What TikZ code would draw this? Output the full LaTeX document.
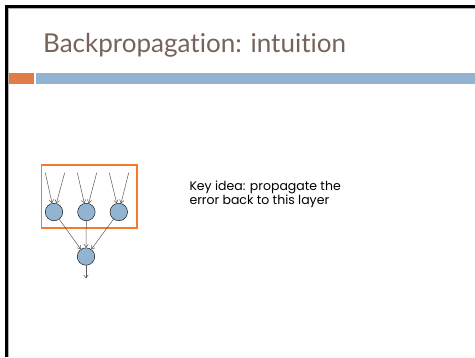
\documentclass[tikz,border=0pt]{standalone}
\usepackage{fontspec}
\setmainfont[Ligatures=NoCommon]{Lato}
\newfontfamily\bodyfont{Poppins}
\usetikzlibrary{positioning,arrows.meta}

\definecolor{titlebrown}{HTML}{76635A}
\definecolor{barorange}{HTML}{E07C45}
\definecolor{barblue}{HTML}{93B4D1}
\definecolor{boxorange}{HTML}{F57A2C}
\definecolor{unitblue}{HTML}{93B4D1}

\begin{document}
\begin{tikzpicture}[x=1pt,y=-1pt,
  unit/.style={circle, draw=black, fill=unitblue, minimum size=17.5pt, inner sep=0pt},
  wire/.style={-{Straight Barb[length=3pt,width=4.5pt]}, draw=black!65, line width=0.5pt}]
  \useasboundingbox (0,0) rectangle (475,357);
  \fill[white] (0,0) rectangle (475,357);

  % slide frame and header bars
  \draw[line width=2.6pt] (6.5,357) -- (6.5,6.5) -- (475,6.5);
  \draw[black!30, line width=0.6pt] (8.3,357) -- (8.3,8.3) -- (475,8.3);
  \fill[barorange] (8.5,73) rectangle (34,84.3);
  \fill[barblue] (36,73) rectangle (475,84.3);
  \node[anchor=base west, inner sep=0pt, text=titlebrown,
    font=\fontsize{26}{30}\selectfont] (title) at (43,52.5) {Backpropagation: intuition};

  % the network
  \draw[boxorange, line width=1.5pt] (41.5,164.8) rectangle (137,228);
  \node[unit] (h1) at (54,212) {};
  \node[unit, right=14.5pt of h1] (h2) {};
  \node[unit, right=14.5pt of h2] (h3) {};
  \node[unit] (out) at (86,256.5) {};

  \foreach \n/\x in {h1/54, h2/86, h3/118} {
    \coordinate (\n a) at (\x-8.7,172.7);
    \coordinate (\n b) at (\x+10.7,172.7);
    \draw[wire] (\n a) -- (\n);
    \draw[wire] (\n b) -- (\n);
    \draw[wire] (\n) -- (out);
  }
  \coordinate (y) at (86,278.3);
  \draw[wire] (out) -- (y);

  \node[anchor=north west, inner sep=0pt, align=left,
    font=\bodyfont\fontsize{12.5}{14.5}\selectfont] (idea) at (189.3,180.5)
    {Key idea: propagate the\\error back to this layer};
\end{tikzpicture}
\end{document}
